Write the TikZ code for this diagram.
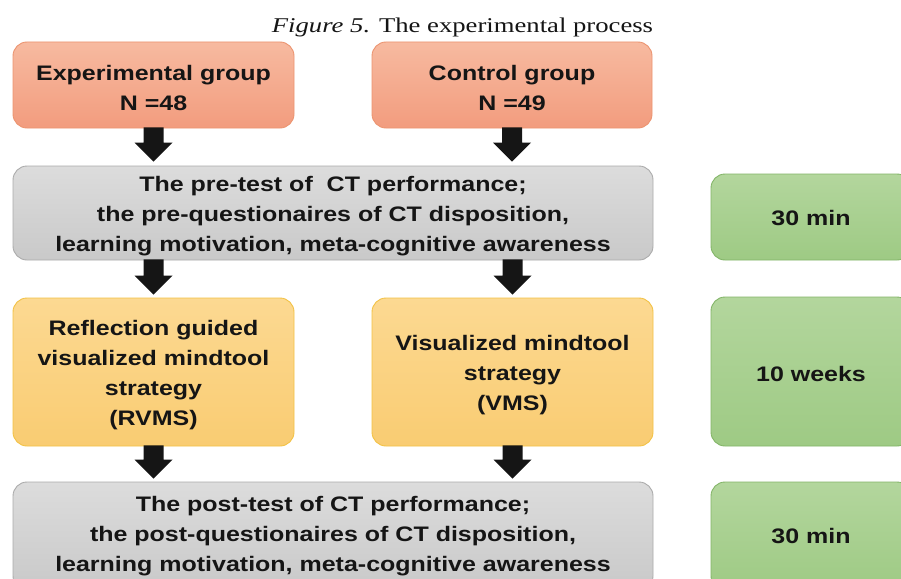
\documentclass[tikz,border=0pt]{standalone}
\usepackage{fontspec}
\usetikzlibrary{calc}
\newfontfamily\boxfont{Liberation Sans}[FakeStretch=1.19]
\newfontfamily\titlefont{Liberation Serif}[FakeStretch=1.27]
\definecolor{txt}{HTML}{151515}
\definecolor{salmonT}{HTML}{F7BAA0}
\definecolor{salmonB}{HTML}{F29C7E}
\definecolor{salmonD}{HTML}{EC9470}
\definecolor{greyT}{HTML}{DCDCDC}
\definecolor{greyB}{HTML}{C9C9C9}
\definecolor{greyD}{HTML}{ABABAB}
\definecolor{yelT}{HTML}{FCD992}
\definecolor{yelB}{HTML}{F9CC72}
\definecolor{yelD}{HTML}{F3C245}
\definecolor{grnT}{HTML}{B3D69D}
\definecolor{grnB}{HTML}{9ECA84}
\definecolor{grnD}{HTML}{83B568}
\newcommand\bigarrow[2]{%
  \fill[txt] ($(#1)+(-10,0)$) -- ($(#1)+(10,0)$) -- ($(#2)+(10,-19)$) -- ($(#2)+(19,-19)$) -- (#2)
    -- ($(#2)+(-19,-19)$) -- ($(#2)+(-10,-19)$) -- cycle;}
\tikzset{
  box/.style={draw, line width=0.9pt, rounded corners=14pt, inner sep=0pt},
  boxtext/.style={inner sep=0pt, align=center, text=txt,
    font=\boxfont\bfseries\fontsize{21}{30}\selectfont},
  salmonbox/.style={box, top color=salmonT, bottom color=salmonB, draw=salmonD},
  greybox/.style={box, top color=greyT, bottom color=greyB, draw=greyD},
  yelbox/.style={box, top color=yelT, bottom color=yelB, draw=yelD},
  grnbox/.style={box, top color=grnT, bottom color=grnB, draw=grnD},
}
\begin{document}
\begin{tikzpicture}[x=1pt,y=-1pt]
\useasboundingbox (0,0) rectangle (901,578);
\clip (0,0) rectangle (901,578);
\fill[white] (0,0) rectangle (901,578);
\node[anchor=base, text=txt, font=\titlefont\fontsize{21}{25}\selectfont] (title) at (462.5,33) {\textit{Figure 5.} The experimental process};

\node[salmonbox, minimum width=281pt, minimum height=86pt] (exp) at (153.5,85) {};
\node[salmonbox, minimum width=280pt, minimum height=86pt] (ctl) at (512,85) {};
\node[greybox, minimum width=640pt, minimum height=94pt] (pre) at (333,213) {};
\node[yelbox, minimum width=281pt, minimum height=148pt] (rvms) at (153.5,372) {};
\node[yelbox, minimum width=281pt, minimum height=148pt] (vms) at (512.5,372) {};
\node[greybox, minimum width=640pt, minimum height=108pt] (post) at (333,536) {};
\node[grnbox, minimum width=200pt, minimum height=86pt] (g1) at (811,217) {};
\node[grnbox, minimum width=200pt, minimum height=149pt] (g2) at (811,371.5) {};
\node[grnbox, minimum width=200pt, minimum height=108pt] (g3) at (811,536) {};

\node[boxtext] (expT) at ($(exp)+(0,2.5)$) {Experimental group\\N =48};
\node[boxtext] (ctlT) at ($(ctl)+(0,2.5)$) {Control group\\N =49};
\node[boxtext] (preT) at ($(pre)+(0,3.5)$) {The pre-test of \ CT performance;\\the pre-questionaires of CT disposition,\\learning motivation, meta-cognitive awareness};
\node[boxtext] (rvmsT) at ($(rvms)+(0,3.5)$) {Reflection guided\\visualized mindtool\\strategy\\(RVMS)};
\node[boxtext] (vmsT) at ($(vms)+(0,3.5)$) {Visualized mindtool\\strategy\\(VMS)};
\node[boxtext] (postT) at ($(post)+(0,0.5)$) {The post-test of CT performance;\\the post-questionaires of CT disposition,\\learning motivation, meta-cognitive awareness};
\node[boxtext] (g1T) at ($(g1)+(0,1)$) {30 min};
\node[boxtext] (g2T) at ($(g2)+(0,2)$) {10 weeks};
\node[boxtext] (g3T) at ($(g3)+(0,0)$) {30 min};

\coordinate (a1s) at ($(exp.south)+(0,-1)$);
\coordinate (a1e) at ($(exp.south |- pre.north)+(0,-4)$);
\coordinate (a2s) at ($(ctl.south)+(0,-1)$);
\coordinate (a2e) at ($(ctl.south |- pre.north)+(0,-4)$);
\coordinate (a3s) at ($(rvms.north |- pre.south)+(0,-1)$);
\coordinate (a3e) at ($(rvms.north)+(0,-3)$);
\coordinate (a4s) at ($(vms.north |- pre.south)+(0,-1)$);
\coordinate (a4e) at ($(vms.north)+(0,-3)$);
\coordinate (a5s) at ($(rvms.south)+(0,-1)$);
\coordinate (a5e) at ($(rvms.south |- post.north)+(0,-3)$);
\coordinate (a6s) at ($(vms.south)+(0,-1)$);
\coordinate (a6e) at ($(vms.south |- post.north)+(0,-3)$);
\bigarrow{a1s}{a1e}
\bigarrow{a2s}{a2e}
\bigarrow{a3s}{a3e}
\bigarrow{a4s}{a4e}
\bigarrow{a5s}{a5e}
\bigarrow{a6s}{a6e}
\end{tikzpicture}
\end{document}
